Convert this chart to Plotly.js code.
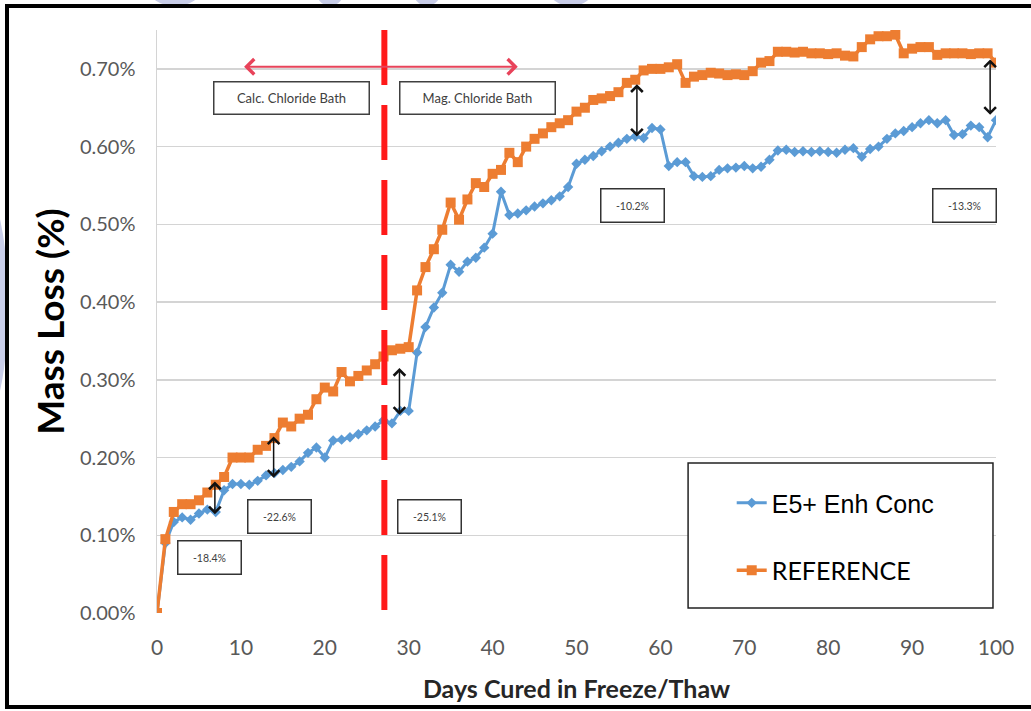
<!DOCTYPE html>
<html><head><meta charset="utf-8">
<script src="https://cdn.plot.ly/plotly-3.0.1.min.js"></script>
<style>
html,body{margin:0;padding:0;background:#fff;overflow:hidden;}
#chart{position:absolute;left:0;top:0;width:1031px;height:711px;}
.frame{position:absolute;left:5px;top:4px;width:1040px;height:705px;border:4px solid #000;box-sizing:border-box;pointer-events:none;}
.blob{position:absolute;background:#c8cde8;border-radius:50%;}
</style></head><body>
<div class="blob" style="left:148px;top:-30px;width:54px;height:36px"></div>
<div class="blob" style="left:315px;top:-30px;width:30px;height:36px"></div>
<div class="blob" style="left:412px;top:-30px;width:30px;height:36px"></div>
<div class="blob" style="left:548px;top:-30px;width:46px;height:36px"></div>
<div class="blob" style="left:-40px;top:190px;width:48px;height:230px"></div>
<div id="chart"></div>
<div class="frame"></div>
<script>
// ---- data ----
const days = [0,1,2,3,4,5,6,7,8,9,10,11,12,13,14,15,16,17,18,19,20,21,22,23,24,25,26,27,28,29,30,
  31,32,33,34,35,36,37,38,39,40,41,42,43,44,45,46,47,48,49,50,51,52,53,54,55,56,57,58,59,60,
  61,62,63,64,65,66,67,68,69,70,71,72,73,74,75,76,77,78,79,80,81,82,83,84,85,86,87,88,89,90,
  91,92,93,94,95,96,97,98,99,100];
const enhConc = [0.000,0.090,0.117,0.123,0.120,0.128,0.133,0.130,0.158,0.166,
  0.166,0.165,0.170,0.177,0.180,0.184,0.188,0.195,0.206,0.213,
  0.200,0.222,0.223,0.226,0.230,0.235,0.240,0.248,0.244,0.260,
  0.260,0.335,0.368,0.393,0.412,0.448,0.439,0.452,0.457,0.470,
  0.488,0.542,0.512,0.514,0.518,0.523,0.527,0.531,0.536,0.548,
  0.578,0.583,0.588,0.594,0.600,0.605,0.610,0.613,0.611,0.624,
  0.622,0.575,0.580,0.580,0.562,0.561,0.562,0.570,0.572,0.573,
  0.575,0.572,0.574,0.583,0.595,0.596,0.593,0.594,0.593,0.594,
  0.593,0.592,0.596,0.598,0.587,0.597,0.600,0.610,0.617,0.620,
  0.625,0.630,0.634,0.630,0.634,0.615,0.616,0.627,0.625,0.612,
  0.634];
const reference = [0.000,0.095,0.130,0.140,0.140,0.145,0.155,0.165,0.175,0.200,
  0.200,0.200,0.210,0.215,0.225,0.245,0.240,0.250,0.255,0.275,
  0.290,0.285,0.310,0.298,0.305,0.312,0.320,0.330,0.338,0.340,
  0.342,0.415,0.445,0.468,0.493,0.528,0.506,0.532,0.553,0.548,
  0.565,0.570,0.592,0.580,0.600,0.610,0.617,0.625,0.630,0.634,
  0.645,0.650,0.660,0.662,0.665,0.670,0.682,0.686,0.698,0.700,
  0.700,0.702,0.706,0.682,0.690,0.692,0.695,0.694,0.692,0.693,
  0.692,0.697,0.708,0.710,0.722,0.722,0.721,0.722,0.720,0.720,
  0.719,0.720,0.717,0.716,0.728,0.738,0.742,0.742,0.744,0.720,
  0.726,0.728,0.728,0.718,0.720,0.720,0.720,0.719,0.720,0.720,
  0.708];
const yTicks = [0,0.1,0.2,0.3,0.4,0.5,0.6,0.7];
const xTicks = [0,10,20,30,40,50,60,70,80,90,100];
const bathChangeDay = 27.1;
const gapDays   = [6.9, 13.9, 28.9, 57.2, 99.3];
const gapTop    = [0.171, 0.229, 0.317, 0.682, 0.714];
const gapBottom = [0.127, 0.174, 0.255, 0.613, 0.641];
const gapLabels = ['-18.4%','-22.6%','-25.1%','-10.2%','-13.3%'];
const gapLabelDays = [6.2, 14.6, 32.5, 56.7, 96.3];
const gapLabelVals = [0.071, 0.124, 0.124, 0.524, 0.524];

// ---- traces ----
const traces = [
  {x: days, y: enhConc, type:'scatter', mode:'lines+markers',
   name:'<span style="font-family:Liberation Sans, Arial">E5+ Enh Conc</span>',
   line:{color:'#5b9bd5', width:3}, marker:{symbol:'diamond', size:8, color:'#5b9bd5'},
   legendgroup:'a'},
  {x: days, y: reference, type:'scatter', mode:'lines+markers',
   name:'REFERENCE',
   line:{color:'#ed7d31', width:3.5}, marker:{symbol:'square', size:10, color:'#ed7d31'},
   legendgroup:'b'}
];

const annotations = [];
// bath labels
annotations.push({x:16.0, y:0.663, xref:'x', yref:'y', text:'Calc. Chloride Bath', showarrow:false,
  font:{family:'Lato', size:13, color:'#404040'}, bordercolor:'#404040', borderwidth:1.5,
  width:152, height:29, bgcolor:'#fff'});
annotations.push({x:38.2, y:0.663, xref:'x', yref:'y', text:'Mag. Chloride Bath', showarrow:false,
  font:{family:'Lato', size:13, color:'#404040'}, bordercolor:'#404040', borderwidth:1.5,
  width:152, height:29, bgcolor:'#fff'});
// red double arrow
annotations.push({x:43.0, y:0.7027, ax:10.2, ay:0.7027, xref:'x', yref:'y', axref:'x', ayref:'y',
  text:'', showarrow:true, arrowside:'end+start', arrowhead:4, startarrowhead:4,
  arrowsize:1.5, startarrowsize:1.5, arrowwidth:2, arrowcolor:'#e8435a', standoff:0, startstandoff:0});
// gap arrows and labels
for (let i=0;i<gapDays.length;i++){
  annotations.push({x:gapDays[i], y:gapBottom[i], ax:gapDays[i], ay:gapTop[i], xref:'x', yref:'y',
    axref:'x', ayref:'y', text:'', showarrow:true, arrowside:'end+start', arrowhead:4, startarrowhead:4,
    arrowsize:1.5, startarrowsize:1.5, arrowwidth:1.5, arrowcolor:'#111', standoff:0, startstandoff:0});
  annotations.push({x:gapLabelDays[i], y:gapLabelVals[i], xref:'x', yref:'y', text:gapLabels[i],
    showarrow:false, font:{family:'Lato', size:10.5, color:'#404040'}, bordercolor:'#333',
    borderwidth:1.5, width:60, height:30, bgcolor:'#fff'});
}

const layout = {
  width:1031, height:711,
  margin:{l:157, r:35, t:30, b:98},
  paper_bgcolor:'rgba(0,0,0,0)', plot_bgcolor:'#fff',
  showlegend:true,
  legend:{x:0.685, y:0.228, xanchor:'left', yanchor:'top', bgcolor:'rgba(0,0,0,0)',
    borderwidth:0, font:{family:'Lato', size:25, color:'#000'}, traceorder:'grouped',
    tracegroupgap:32},
  xaxis:{range:[0,100], tickvals:xTicks, showgrid:false, zeroline:false, showline:false,
    ticks:'', tickfont:{family:'Lato', size:21, color:'#595959'}, ticklabelstandoff:20,
    title:{text:'<b>Days Cured in Freeze/Thaw</b>', font:{family:'Lato', size:25, color:'#262626'}, standoff:22}},
  yaxis:{range:[0,0.75], tickvals:yTicks, ticktext:yTicks.map(v=>v.toFixed(2)+'%'),
    showgrid:true, gridcolor:'#d4d4d4', gridwidth:1.5, zeroline:false,
    showline:true, linecolor:'#d4d4d4', linewidth:1.5, ticks:'',
    tickfont:{family:'Lato', size:20, color:'#595959'}, ticklabelstandoff:16,
    title:{text:'<b>Mass Loss (%)</b>', font:{family:'Lato', size:37, color:'#000'}, standoff:4}},
  shapes:[
    {type:'line', xref:'x', yref:'y', x0:bathChangeDay, x1:bathChangeDay, y0:0.75, y1:0,
     line:{color:'#ff1a1a', width:6, dash:'55px,20px'}},
    {type:'rect', xref:'paper', yref:'paper', x0:0.633, x1:0.9964, y0:0.0086, y1:0.2573,
     fillcolor:'#fff', line:{color:'#222', width:1.5}}
  ],
  annotations: annotations
};

Plotly.newPlot('chart', traces, layout, {staticPlot:true, displayModeBar:false});
</script>
</body></html>
